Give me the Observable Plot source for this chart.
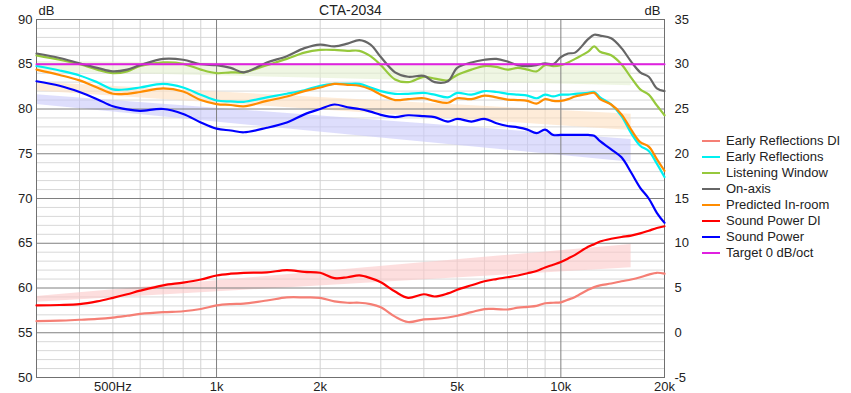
<!DOCTYPE html>
<html><head><meta charset="utf-8">
<script src="https://cdn.jsdelivr.net/npm/d3@7"></script>
<script src="https://cdn.jsdelivr.net/npm/@observablehq/plot@0.6"></script>
<style>
body{margin:0;background:#fff;font-family:"Liberation Sans",Arial,sans-serif;}
#wrap{position:relative;width:851px;height:393px;overflow:hidden;}
.row{position:absolute;left:702px;height:16px;font-size:13px;line-height:16px;color:#222;white-space:nowrap;}
.sw{position:absolute;left:0;top:7px;width:18px;height:2px;}
.lb{position:absolute;left:24px;top:0;}
</style></head><body><div id="wrap"></div>
<script>
const freqs = [300,350,400,450,500,550,600,700,800,900,1000,1100,1200,1400,1600,1800,2000,2200,2400,2600,2800,3000,3300,3600,4000,4300,4700,5000,5500,6000,6500,7000,7500,8000,8500,9000,9500,10000,10500,11000,12000,12500,13000,14000,15000,16000,17000,18000,19000,20000];

const onAxis = [86.2,85.7,85.1,84.6,84.2,84.4,84.9,85.6,85.5,85.0,84.9,84.6,84.1,85.2,85.9,86.8,87.2,87.0,87.3,87.7,87.2,85.8,84.1,83.6,83.7,83.0,83.1,84.6,85.2,85.5,85.6,85.3,84.9,84.8,84.9,85.1,85.0,85.8,86.2,86.3,87.8,88.3,88.2,87.9,86.8,85.3,84.1,83.6,82.3,82.0];
const listeningWindow = [86.0,85.5,85.0,84.4,84.0,84.2,84.8,85.2,85.05,84.4,84.0,84.1,84.1,84.9,85.6,86.3,86.6,86.6,86.5,86.5,85.9,84.9,83.3,83.0,83.6,83.4,83.2,83.8,84.4,84.8,84.7,84.4,84.6,84.4,84.2,84.9,84.8,84.9,85.2,85.6,86.4,87.0,86.4,86.0,85.0,83.5,82.2,81.6,80.4,79.3];
const earlyReflections = [84.8,84.3,83.75,83.0,82.2,82.2,82.4,82.8,82.4,81.6,80.95,80.85,80.8,81.3,81.7,82.1,82.6,82.8,82.8,82.8,82.4,82.0,81.7,81.7,81.8,81.6,81.3,81.8,81.6,82.0,81.9,81.7,81.6,81.5,81.2,81.6,81.4,81.6,81.6,81.7,81.8,81.9,81.3,80.5,79.2,77.3,75.9,75.3,73.9,72.4];
const predictedInRoom = [84.4,83.8,83.2,82.4,81.7,81.7,81.9,82.3,81.95,81.0,80.55,80.45,80.3,80.9,81.4,82.0,82.4,82.8,82.7,82.6,82.2,81.6,81.0,81.1,81.2,80.9,80.7,81.2,81.1,81.5,81.3,81.05,81.0,80.9,80.6,81.1,80.9,80.9,81.1,81.4,81.7,81.8,81.1,80.5,79.4,77.7,76.3,75.8,74.4,73.1];
const soundPower = [83.1,82.6,81.9,81.1,80.3,79.95,79.8,80.0,79.45,78.5,77.8,77.6,77.4,77.9,78.5,79.4,80.0,80.5,80.2,80.0,79.7,79.35,79.1,79.3,79.2,79.1,78.6,78.9,78.6,78.9,78.4,78.1,77.95,77.7,77.3,77.7,77.1,77.1,77.1,77.1,77.1,77.0,76.4,75.5,74.6,72.9,71.2,70.0,68.4,67.3];
const soundPowerDI = [58.05,58.1,58.2,58.5,58.9,59.3,59.7,60.3,60.6,60.95,61.4,61.6,61.7,61.75,62.0,61.8,61.7,61.1,61.2,61.4,61.1,60.65,59.6,58.9,59.3,59.05,59.4,59.8,60.3,60.75,61.0,61.2,61.4,61.65,61.9,62.3,62.6,62.9,63.3,63.7,64.6,64.9,65.2,65.5,65.7,65.85,66.1,66.4,66.7,66.9];
const earlyReflectionsDI = [56.3,56.35,56.45,56.55,56.7,56.9,57.1,57.3,57.4,57.65,58.05,58.2,58.25,58.6,58.95,58.95,58.9,58.5,58.35,58.35,58.2,57.85,56.8,56.2,56.5,56.55,56.7,56.9,57.3,57.65,57.65,57.6,57.8,57.9,58.0,58.3,58.35,58.4,58.7,59.0,59.8,60.1,60.3,60.5,60.75,60.95,61.2,61.5,61.7,61.6];
const targetFreqs = [300, 20000];
const targetLevel = [85, 85];

// trend bands (top/bottom at band ends)
const bandFreqs = [300, 16000];
const lwBandTop = [85.3, 84.7], lwBandBottom = [84.2, 82.6];
const pirBandTop = [83.0, 79.4], pirBandBottom = [82.0, 77.6];
const spBandTop = [81.6, 76.6], spBandBottom = [80.5, 74.05];
const spdiBandTop = [59.05, 64.85], spdiBandBottom = [58.4, 62.25];

const majorDb = [50,55,60,65,70,75,80,85,90];
const minorDb = d3.range(50, 91, 1).filter(d => d % 5 !== 0);
const majorFreqs = [1000, 10000];
const minorFreqs = [400,500,600,700,800,900,2000,3000,4000,5000,6000,7000,8000,9000];
const xTicks = [500, 1000, 2000, 5000, 10000, 20000];
const xTickLabels = ["500Hz", "1k", "2k", "5k", "10k", "20k"];
const rightOffset = 55;

const series = [
  {name: "Early Reflections DI", color: "#f57f75", values: earlyReflectionsDI},
  {name: "Early Reflections", color: "#00f0f0", values: earlyReflections},
  {name: "Listening Window", color: "#96c83c", values: listeningWindow},
  {name: "On-axis", color: "#666666", values: onAxis},
  {name: "Predicted In-room", color: "#ff8c00", values: predictedInRoom},
  {name: "Sound Power DI", color: "#ff0000", values: soundPowerDI},
  {name: "Sound Power", color: "#0000ff", values: soundPower},
];
const targetName = "Target 0 dB/oct", targetColor = "#e020e0";

const band = (top, bot) => bandFreqs.map((f, i) => ({f, y1: bot[i], y2: top[i]}));

const marks = [
  Plot.ruleY(minorDb, {stroke: "#d8d8d8", strokeWidth: 1}),
  Plot.ruleX(minorFreqs, {x: d => d, stroke: "#d2d2d2", strokeWidth: 1}),
  Plot.areaY(band(lwBandTop, lwBandBottom), {x: "f", y1: "y1", y2: "y2", fill: "#e4f0d0", fillOpacity: 0.6}),
  Plot.areaY(band(pirBandTop, pirBandBottom), {x: "f", y1: "y1", y2: "y2", fill: "#fde0c0", fillOpacity: 0.6}),
  Plot.areaY(band(spBandTop, spBandBottom), {x: "f", y1: "y1", y2: "y2", fill: "#c8c8fa", fillOpacity: 0.6}),
  Plot.areaY(band(spdiBandTop, spdiBandBottom), {x: "f", y1: "y1", y2: "y2", fill: "#fcc8c8", fillOpacity: 0.6}),
  Plot.ruleY(majorDb, {stroke: "#808080", strokeWidth: 1}),
  Plot.ruleX(majorFreqs, {x: d => d, stroke: "#808080", strokeWidth: 1}),
  Plot.frame({stroke: "#707070"}),
  ...series.map(s => Plot.line(freqs.map((f, i) => ({f, v: s.values[i]})), {x: "f", y: "v", stroke: s.color, strokeWidth: 2.2, curve: "catmull-rom"})),
  Plot.line(targetFreqs.map((f, i) => ({f, v: targetLevel[i]})), {x: "f", y: "v", stroke: targetColor, strokeWidth: 2}),
  Plot.axisY(majorDb, {anchor: "left", tickSize: 0, tickPadding: 4, label: null, fontSize: 13, fill: "#222"}),
  Plot.axisY(majorDb, {anchor: "right", tickSize: 0, tickPadding: 10, label: null, tickFormat: d => d - rightOffset, fontSize: 13, fill: "#222"}),
  Plot.text(xTicks, {x: d => d, text: (d, i) => xTickLabels[i], frameAnchor: "bottom", dy: 9, lineAnchor: "middle", fontSize: 13, fill: "#222"}),
  Plot.text(["CTA-2034"], {frameAnchor: "top", dy: -9, fontSize: 14, fill: "#222", lineAnchor: "middle"}),
  Plot.text(["dB"], {frameAnchor: "top-left", dx: 2, dy: -9, textAnchor: "start", fontSize: 13, fill: "#222", lineAnchor: "middle"}),
  Plot.text(["dB"], {frameAnchor: "top-right", dx: -4, dy: -9, textAnchor: "end", fontSize: 13, fill: "#222", lineAnchor: "middle"}),
];

const chart = Plot.plot({
  width: 851, height: 393,
  marginTop: 19, marginBottom: 16, marginLeft: 36, marginRight: 187,
  style: {fontFamily: "'Liberation Sans', Arial, sans-serif", fontSize: "13px", background: "#fff", overflow: "visible"},
  x: {type: "log", domain: [300, 20000], axis: null},
  y: {domain: [50, 90]},
  marks
});
const wrap = document.getElementById("wrap");
wrap.appendChild(chart);

const legendItems = [...series.map(s => ({name: s.name, color: s.color})), {name: targetName, color: targetColor}];
legendItems.forEach((it, i) => {
  const row = document.createElement("div");
  row.className = "row";
  row.style.top = (140.5 + 16 * i - 8) + "px";
  row.innerHTML = `<span class="sw" style="background:${it.color}"></span><span class="lb">${it.name}</span>`;
  wrap.appendChild(row);
});
</script></body></html>
